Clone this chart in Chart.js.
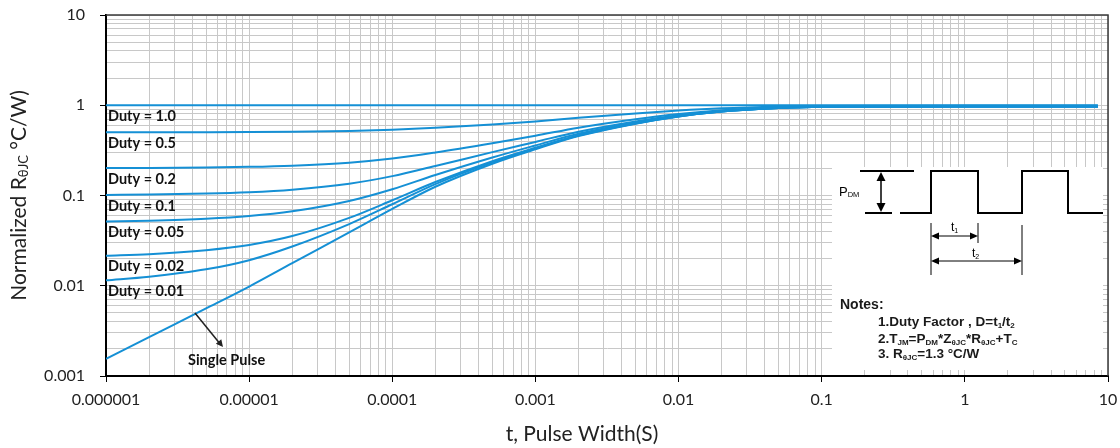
<!DOCTYPE html>
<html>
<head>
<meta charset="utf-8">
<script src="https://cdn.jsdelivr.net/npm/chart.js@4.4.1/dist/chart.umd.min.js"></script>
<style>
  html, body { margin: 0; padding: 0; background: #fff; }
  #box { width: 1120px; height: 448px; }
</style>
</head>
<body>
<div id="box"><canvas id="myChart"></canvas></div>
<script>
// Set Data
const pulseWidth = [1e-6, 2e-6, 5e-6, 1e-5, 2e-5, 5e-5, 1e-4, 2e-4, 5e-4, 1e-3, 2e-3, 5e-3, 1e-2, 2e-2, 5e-2, 0.1, 1, 8.5];
const duty10 = [1, 1, 1, 1, 1, 1, 1, 1, 1, 1, 1, 1, 1, 1, 1, 1, 1, 1];
const duty05 = [0.5008, 0.5014, 0.5028, 0.5049, 0.5089, 0.5195, 0.5355, 0.5625, 0.6125, 0.6625, 0.7275, 0.8125, 0.875, 0.925, 0.965, 0.98, 0.985, 0.985];
const duty02 = [0.2012, 0.2022, 0.2045, 0.2078, 0.2142, 0.2312, 0.2568, 0.3, 0.38, 0.46, 0.564, 0.7, 0.8, 0.88, 0.944, 0.968, 0.976, 0.976];
const duty01 = [0.1014, 0.1024, 0.105, 0.1088, 0.116, 0.1351, 0.1639, 0.2125, 0.3025, 0.3925, 0.5095, 0.6625, 0.775, 0.865, 0.937, 0.964, 0.973, 0.973];
const duty005 = [0.0515, 0.0526, 0.0553, 0.0593, 0.0669, 0.0871, 0.1175, 0.1688, 0.2638, 0.3588, 0.4823, 0.6438, 0.7625, 0.8575, 0.9335, 0.962, 0.9715, 0.9715];
const duty002 = [0.0215, 0.0224, 0.0248, 0.0283, 0.0355, 0.0565, 0.0885, 0.141, 0.24, 0.338, 0.466, 0.632, 0.755, 0.853, 0.931, 0.961, 0.971, 0.971];
const duty001 = [0.0115, 0.0126, 0.0152, 0.0192, 0.0272, 0.0482, 0.08, 0.1338, 0.2328, 0.3318, 0.4605, 0.6288, 0.7525, 0.8515, 0.9307, 0.9604, 0.9703, 0.9703];
const single = [0.00155, 0.0027, 0.0056, 0.0098, 0.0178, 0.039, 0.071, 0.125, 0.225, 0.325, 0.455, 0.625, 0.75, 0.85, 0.93, 0.96, 0.97, 0.97];

const seriesList = [duty10, duty05, duty02, duty01, duty005, duty002, duty001, single];
const seriesNames = ["Duty = 1.0", "Duty = 0.5", "Duty = 0.2", "Duty = 0.1", "Duty = 0.05", "Duty = 0.02", "Duty = 0.01", "Single Pulse"];

const xTickValues = [1e-6, 1e-5, 1e-4, 1e-3, 1e-2, 0.1, 1, 10];
const xTickLabels = ["0.000001", "0.00001", "0.0001", "0.001", "0.01", "0.1", "1", "10"];
const yTickValues = [0.001, 0.01, 0.1, 1, 10];
const yTickLabels = ["0.001", "0.01", "0.1", "1", "10"];

const blue = "#1590d5";
const gridGray = "#c8c8c8";
const tickFont = "Lato";

// grid lines at 1..9 of every decade
function decadeTicks(decades) {
  const out = [];
  decades.forEach((d, i) => {
    out.push({ value: d });
    if (i < decades.length - 1) {
      for (let m = 2; m <= 9; m++) out.push({ value: +(d * m).toPrecision(3) });
    }
  });
  return out;
}
function isMajor(list, v) {
  return list.some((d) => Math.abs(d - v) / d < 1e-6);
}

// draw text with subscripts, parts = [[text, isSub], ...]
function drawRich(ctx, parts, x, y, size, subSize, bold) {
  let cx = x;
  parts.forEach(([t, sub]) => {
    ctx.font = (bold ? "bold " : "") + (sub ? subSize : size) + "px 'Liberation Sans', Arial";
    ctx.fillText(t, cx, sub ? y + size * 0.25 : y);
    cx += ctx.measureText(t).width;
  });
  return cx - x;
}
function arrowHead(ctx, x, y, ang, len, wid) {
  ctx.beginPath();
  ctx.moveTo(x, y);
  ctx.lineTo(x - len * Math.cos(ang) + wid * Math.sin(ang), y - len * Math.sin(ang) - wid * Math.cos(ang));
  ctx.lineTo(x - len * Math.cos(ang) - wid * Math.sin(ang), y - len * Math.sin(ang) + wid * Math.cos(ang));
  ctx.closePath();
  ctx.fill();
}

const insetPlugin = {
  id: "inset",
  beforeDatasetsDraw(chart) {
    const { ctx, chartArea } = chart;
    ctx.save();
    ctx.fillStyle = "#fff";
    ctx.fillRect(chartArea.right - 276, chartArea.top + 152, 271, 203);
    ctx.restore();
  },
  afterDatasetsDraw(chart) {
    const { ctx, chartArea, scales } = chart;
    const L = chartArea.left, R = chartArea.right, T = chartArea.top, B = chartArea.bottom;
    ctx.save();
    // top / right frame
    ctx.strokeStyle = "#3a3a3a";
    ctx.lineWidth = 1.5;
    ctx.beginPath();
    ctx.moveTo(L, T); ctx.lineTo(R, T); ctx.lineTo(R, B);
    ctx.stroke();

    // duty labels
    ctx.fillStyle = "#111";
    ctx.textBaseline = "middle";
    ctx.textAlign = "left";
    ctx.font = "bold 14.5px Lato";
    for (let i = 0; i < 7; i++) {
      const py = scales.y.getPixelForValue(seriesList[i][0]);
      ctx.fillText(seriesNames[i], L + 2, py + 11);
    }
    ctx.fillText(seriesNames[7], L + 82, B - 16);
    // single pulse pointer
    ctx.strokeStyle = "#222";
    ctx.fillStyle = "#222";
    ctx.lineWidth = 1.5;
    ctx.beginPath();
    ctx.moveTo(L + 89, B - 63);
    ctx.lineTo(L + 115, B - 31);
    ctx.stroke();
    arrowHead(ctx, L + 117, B - 29, Math.atan2(32, 26), 7, 3.5);

    // pulse diagram
    const hi = T + 156, lo = T + 198;
    ctx.strokeStyle = "#000";
    ctx.fillStyle = "#000";
    ctx.lineWidth = 2;
    ctx.beginPath();
    ctx.moveTo(R - 248, hi); ctx.lineTo(R - 194, hi);
    ctx.moveTo(R - 243, lo); ctx.lineTo(R - 216, lo);
    ctx.moveTo(R - 208, lo); ctx.lineTo(R - 177, lo); ctx.lineTo(R - 177, hi);
    ctx.lineTo(R - 130, hi); ctx.lineTo(R - 130, lo); ctx.lineTo(R - 86, lo);
    ctx.lineTo(R - 86, hi); ctx.lineTo(R - 40, hi); ctx.lineTo(R - 40, lo); ctx.lineTo(R - 5, lo);
    ctx.stroke();
    // PDM double arrow
    ctx.lineWidth = 1.5;
    ctx.beginPath();
    ctx.moveTo(R - 227, hi + 6); ctx.lineTo(R - 227, lo - 6);
    ctx.stroke();
    arrowHead(ctx, R - 227, hi + 1, -Math.PI / 2, 9, 4.5);
    arrowHead(ctx, R - 227, lo - 1, Math.PI / 2, 9, 4.5);
    ctx.textBaseline = "middle";
    drawRich(ctx, [["P", false], ["DM", true]], R - 269, T + 177, 13, 7.5, false);

    // t1 / t2 dimension lines
    ctx.lineWidth = 1;
    ctx.beginPath();
    ctx.moveTo(R - 177, T + 208); ctx.lineTo(R - 177, T + 260);
    ctx.moveTo(R - 130, T + 208); ctx.lineTo(R - 130, T + 228);
    ctx.moveTo(R - 86, T + 210); ctx.lineTo(R - 86, T + 260);
    ctx.moveTo(R - 172, T + 221); ctx.lineTo(R - 135, T + 221);
    ctx.moveTo(R - 172, T + 246); ctx.lineTo(R - 91, T + 246);
    ctx.stroke();
    arrowHead(ctx, R - 177, T + 221, Math.PI, 8, 3.5);
    arrowHead(ctx, R - 130, T + 221, 0, 8, 3.5);
    arrowHead(ctx, R - 177, T + 246, Math.PI, 8, 3.5);
    arrowHead(ctx, R - 86, T + 246, 0, 8, 3.5);
    drawRich(ctx, [["t", false], ["1", true]], R - 157, T + 213, 12, 7, false);
    drawRich(ctx, [["t", false], ["2", true]], R - 136, T + 239, 12, 7, false);

    // notes
    ctx.fillStyle = "#1a1a1a";
    drawRich(ctx, [["Notes:", false]], R - 268, T + 290, 14, 8, true);
    drawRich(ctx, [["1.Duty Factor , D=t", false], ["1", true], ["/t", false], ["2", true]], R - 230, T + 307, 13.5, 8, true);
    drawRich(ctx, [["2.T", false], ["JM", true], ["=P", false], ["DM", true], ["*Z", false], ["θJC", true],
      ["*R", false], ["θJC", true], ["+T", false], ["C", true]], R - 230, T + 324, 13.5, 8, true);
    drawRich(ctx, [["3. R", false], ["θJC", true], ["=1.3 °C/W", false]], R - 230, T + 339, 13.5, 8, true);

    // axis titles
    ctx.fillStyle = "#222";
    ctx.textAlign = "center";
    ctx.font = "21px Lato";
    ctx.fillText("t, Pulse Width(S)", (L + R) / 2 - 25, 434);
    ctx.translate(19, (T + B) / 2);
    ctx.rotate(-Math.PI / 2);
    ctx.textAlign = "left";
    const parts = [["Normalized R", 21], ["θJC", 13], [" °C/W)", 21]];
    let w = 0;
    parts.forEach(([t, s]) => { ctx.font = s + "px Lato"; w += ctx.measureText(t).width; });
    let cx = -w / 2;
    parts.forEach(([t, s]) => {
      ctx.font = s + "px Lato";
      ctx.fillText(t, cx, s < 21 ? 5 : 0);
      cx += ctx.measureText(t).width;
    });
    ctx.restore();
  },
};

const datasets = seriesList.map((vals, i) => ({
  label: seriesNames[i],
  data: pulseWidth.map((x, j) => ({ x: x, y: vals[j] })),
  borderColor: blue,
  borderWidth: 2,
  pointRadius: 0,
  fill: false,
  cubicInterpolationMode: "monotone",
}));

new Chart("myChart", {
  type: "line",
  data: { datasets: datasets },
  plugins: [insetPlugin],
  options: {
    responsive: true,
    maintainAspectRatio: false,
    animation: false,
    layout: { padding: { top: 15, right: 12, left: 0, bottom: 0 } },
    plugins: { legend: { display: false }, tooltip: { enabled: false } },
    scales: {
      x: {
        type: "logarithmic",
        min: 1e-6,
        max: 10,
        afterBuildTicks: (scale) => { scale.ticks = decadeTicks(xTickValues); },
        afterFit: (scale) => {
          scale.height = 72;
          scale.paddingLeft = 0;
          scale.paddingRight = 0;
        },
        border: { color: "#000", width: 2 },
        grid: {
          color: gridGray,
          lineWidth: 1,
          tickLength: 6,
          tickColor: (c) => (c.tick && isMajor(xTickValues, c.tick.value) ? "#000" : "rgba(0,0,0,0)"),
        },
        ticks: {
          autoSkip: false,
          maxRotation: 0,
          padding: 8,
          color: "#222",
          font: { family: tickFont, size: 16 },
          callback: (v) => {
            const k = xTickValues.findIndex((d) => Math.abs(d - v) / d < 1e-6);
            return k >= 0 ? xTickLabels[k] : "";
          },
        },
      },
      y: {
        type: "logarithmic",
        min: 0.001,
        max: 10,
        afterBuildTicks: (scale) => { scale.ticks = decadeTicks(yTickValues); },
        afterFit: (scale) => {
          scale.width = 106;
          scale.paddingTop = 0;
          scale.paddingBottom = 0;
        },
        border: { color: "#000", width: 2 },
        grid: {
          color: gridGray,
          lineWidth: 1,
          tickLength: 6,
          tickColor: (c) => (c.tick && isMajor(yTickValues, c.tick.value) ? "#000" : "rgba(0,0,0,0)"),
        },
        ticks: {
          autoSkip: false,
          padding: 15,
          color: "#222",
          font: { family: tickFont, size: 16 },
          callback: (v) => {
            const k = yTickValues.findIndex((d) => Math.abs(d - v) / d < 1e-6);
            return k >= 0 ? yTickLabels[k] : "";
          },
        },
      },
    },
  },
});
</script>
</body>
</html>
